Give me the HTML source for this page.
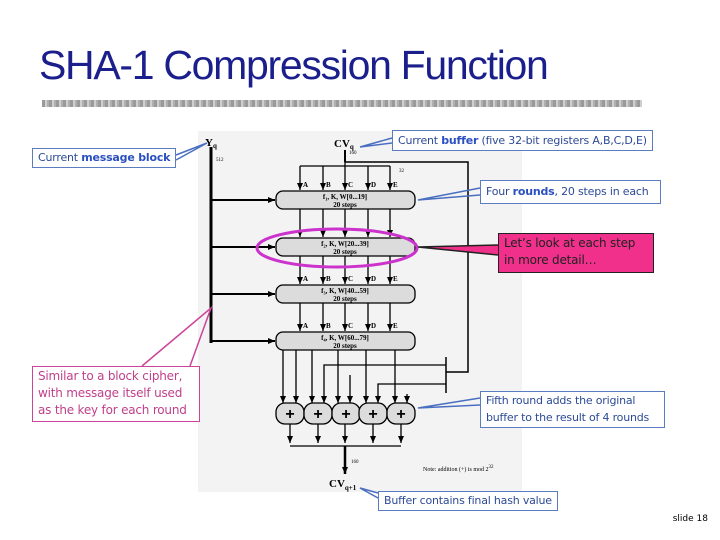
<!DOCTYPE html>
<html><head><meta charset="utf-8"><style>
body{margin:0;width:720px;height:540px;background:#fff;position:relative;overflow:hidden;font-family:"DejaVu Sans","Liberation Sans",sans-serif}
.t{position:absolute;left:39px;top:42px;font-size:41px;color:#1b1f8c;font-family:"Liberation Sans",sans-serif;letter-spacing:-1.3px}
.bar{position:absolute;left:42px;top:100px;width:600px;height:7px;background:repeating-linear-gradient(90deg,#9a9a9a 0 3px,#cfcfcf 3px 5px,#b0b0b0 5px 7px)}
.c{position:absolute;border:1px solid #5c7cc0;background:#fff;color:#2c4a96;font-size:11px;padding:0 5px;line-height:19px;white-space:nowrap;letter-spacing:-0.2px}
.c b{color:#2a4fc0}
.s{font-size:9px;position:absolute;right:12px;bottom:16px;color:#000}
</style></head><body>
<div class="t">SHA-1 Compression Function</div>
<div class="bar"></div>
<svg width="720" height="540" style="position:absolute;left:0;top:0" font-family="Liberation Serif,serif">
<defs><marker id="a" markerUnits="userSpaceOnUse" markerWidth="8" markerHeight="8" refX="7" refY="4" orient="auto"><path d="M0,1L7,4L0,7z" fill="#000"/></marker></defs>
<rect x="198" y="131" width="324" height="361" fill="#f3f3f3"/>
<g stroke="#000" fill="none">
<line x1="211" y1="147" x2="211" y2="343" stroke-width="3"/>
<line x1="345" y1="150" x2="345" y2="162" stroke-width="2"/>
<line x1="300" y1="166" x2="390" y2="166" stroke-width="1.3"/>
<polyline points="345,162 468,162 468,372 446,372" stroke-width="1.5"/>
<line x1="446" y1="357" x2="446" y2="393" stroke-width="1.5"/>
<g stroke-width="1.3">
<line x1="300" y1="166" x2="300" y2="190" marker-end="url(#a)"/><line x1="323" y1="166" x2="323" y2="190" marker-end="url(#a)"/><line x1="345" y1="162" x2="345" y2="190" marker-end="url(#a)"/><line x1="368" y1="166" x2="368" y2="190" marker-end="url(#a)"/><line x1="390" y1="166" x2="390" y2="190" marker-end="url(#a)"/>
<line x1="300" y1="209" x2="300" y2="237" marker-end="url(#a)"/><line x1="323" y1="209" x2="323" y2="237" marker-end="url(#a)"/><line x1="345" y1="209" x2="345" y2="237" marker-end="url(#a)"/><line x1="368" y1="209" x2="368" y2="237" marker-end="url(#a)"/><line x1="390" y1="209" x2="390" y2="237" marker-end="url(#a)"/>
<line x1="300" y1="256" x2="300" y2="284" marker-end="url(#a)"/><line x1="323" y1="256" x2="323" y2="284" marker-end="url(#a)"/><line x1="345" y1="256" x2="345" y2="284" marker-end="url(#a)"/><line x1="368" y1="256" x2="368" y2="284" marker-end="url(#a)"/><line x1="390" y1="256" x2="390" y2="284" marker-end="url(#a)"/>
<line x1="300" y1="303" x2="300" y2="331" marker-end="url(#a)"/><line x1="323" y1="303" x2="323" y2="331" marker-end="url(#a)"/><line x1="345" y1="303" x2="345" y2="331" marker-end="url(#a)"/><line x1="368" y1="303" x2="368" y2="331" marker-end="url(#a)"/><line x1="390" y1="303" x2="390" y2="331" marker-end="url(#a)"/>
<line x1="283" y1="350" x2="283" y2="403" marker-end="url(#a)"/><line x1="312" y1="350" x2="312" y2="403" marker-end="url(#a)"/><line x1="338" y1="350" x2="338" y2="403" marker-end="url(#a)"/><line x1="366" y1="350" x2="366" y2="403" marker-end="url(#a)"/><line x1="395" y1="350" x2="395" y2="403" marker-end="url(#a)"/>
<line x1="296" y1="350" x2="296" y2="403" marker-end="url(#a)"/>
<polyline points="446,365 324,365 324,403" marker-end="url(#a)"/>
<line x1="350" y1="375" x2="350" y2="403" marker-end="url(#a)"/>
<polyline points="446,384 378,384 378,403" marker-end="url(#a)"/>
<line x1="407" y1="394" x2="407" y2="403" marker-end="url(#a)"/>
<line x1="290" y1="424" x2="290" y2="443" marker-end="url(#a)"/><line x1="318" y1="424" x2="318" y2="443" marker-end="url(#a)"/><line x1="345" y1="424" x2="345" y2="443" marker-end="url(#a)"/><line x1="373" y1="424" x2="373" y2="443" marker-end="url(#a)"/><line x1="401" y1="424" x2="401" y2="443" marker-end="url(#a)"/>
<line x1="290" y1="446" x2="401" y2="446"/>
</g>
<line x1="345" y1="446" x2="345" y2="474" stroke-width="2.5" marker-end="url(#a)"/>
<g stroke-width="2"><line x1="211" y1="200" x2="275" y2="200" marker-end="url(#a)"/><line x1="211" y1="247" x2="275" y2="247" marker-end="url(#a)"/><line x1="211" y1="294" x2="275" y2="294" marker-end="url(#a)"/><line x1="211" y1="341" x2="275" y2="341" marker-end="url(#a)"/></g>
</g>
<g fill="#dcdcdc" stroke="#000" stroke-width="1.3">
<rect x="276" y="191" width="139" height="18" rx="7"/><rect x="276" y="238" width="139" height="18" rx="7"/><rect x="276" y="285" width="139" height="18" rx="7"/><rect x="276" y="332" width="139" height="18" rx="7"/>
<rect x="276" y="403" width="28" height="21" rx="9"/><rect x="304" y="403" width="28" height="21" rx="9"/><rect x="332" y="403" width="28" height="21" rx="9"/><rect x="359" y="403" width="28" height="21" rx="9"/><rect x="387" y="403" width="28" height="21" rx="9"/>
</g>
<g font-size="16" text-anchor="middle" font-weight="bold" font-family="Liberation Sans,sans-serif"><text x="290" y="419">+</text><text x="318" y="419">+</text><text x="346" y="419">+</text><text x="373" y="419">+</text><text x="401" y="419">+</text></g>
<g font-size="7" text-anchor="middle" font-weight="bold">
<text x="345" y="199">f₁, K, W[0...19]</text><text x="345" y="207">20 steps</text>
<text x="345" y="246">f₂, K, W[20...39]</text><text x="345" y="254">20 steps</text>
<text x="345" y="293">f₃, K, W[40...59]</text><text x="345" y="301">20 steps</text>
<text x="345" y="340">f₄, K, W[60...79]</text><text x="345" y="348">20 steps</text>
</g>
<g font-size="7" font-weight="bold">
<text x="303" y="187">A</text><text x="326" y="187">B</text><text x="348" y="187">C</text><text x="371" y="187">D</text><text x="393" y="187">E</text>
<text x="303" y="281">A</text><text x="326" y="281">B</text><text x="348" y="281">C</text><text x="371" y="281">D</text><text x="393" y="281">E</text>
<text x="303" y="328">A</text><text x="326" y="328">B</text><text x="348" y="328">C</text><text x="371" y="328">D</text><text x="393" y="328">E</text>
</g>
<text x="205" y="146" font-size="11" font-weight="bold">Y<tspan font-size="7" dy="2">q</tspan></text>
<text x="334" y="147" font-size="11" font-weight="bold">CV<tspan font-size="7" dy="2">q</tspan></text>
<text x="329" y="487" font-size="11" font-weight="bold">CV<tspan font-size="7" dy="3">q+1</tspan></text>
<text x="423" y="471" font-size="6">Note: addition (+) is mod 2<tspan font-size="5" dy="-3">32</tspan></text>
<g font-size="5"><text x="216" y="161">512</text><text x="349" y="154">160</text><text x="399" y="172">32</text><text x="351" y="463">160</text></g>
<ellipse cx="337" cy="248" rx="80" ry="19" fill="none" stroke="#cc33cc" stroke-width="3"/>
<g stroke-width="1.5" fill="none">
<polyline points="176,155 207,143 176,160" stroke="#4a6fc0"/>
<polyline points="392,138 360,147 392,143" stroke="#4a6fc0"/>
<polyline points="480,188 418,200 480,195" stroke="#4a6fc0"/>
<polyline points="498,245 418,247 498,255" stroke="#222" fill="#f0308a"/>
<polyline points="480,398 418,408 480,405" stroke="#4a6fc0"/>
<polyline points="378,493 360,488 378,498" stroke="#4a6fc0"/>
<polyline points="142,366 211,308 190,366" stroke="#cc4499"/>
</g>
</svg>
<div class="c" style="left:392px;top:130px">Current <b>buffer</b> (five 32-bit registers A,B,C,D,E)</div>
<div class="c" style="left:32px;top:148px;line-height:18px">Current <b>message block</b></div>
<div class="c" style="left:480px;top:180px;line-height:22px;width:169px">Four <b>rounds</b>, 20 steps in each</div>
<div class="c" style="left:498px;top:233px;width:144px;height:37px;line-height:17px;background:#f0308a;color:#222;border-color:#222;white-space:normal;font-size:12px;padding-top:1px">Let’s look at each step in more detail…</div>
<div class="c" style="left:32px;top:366px;width:156px;height:53px;line-height:17px;border-color:#cc4499;color:#c0408a;white-space:normal;font-size:12px;padding-top:1px">Similar to a block cipher, with message itself used as the key for each round</div>
<div class="c" style="left:480px;top:391px;width:173px;height:35px;line-height:17px;white-space:normal;font-size:11px">Fifth round adds the original buffer to the result of 4 rounds</div>
<div class="c" style="left:378px;top:491px;line-height:18px">Buffer contains final hash value</div>
<div class="s">slide 18</div>
</body></html>
